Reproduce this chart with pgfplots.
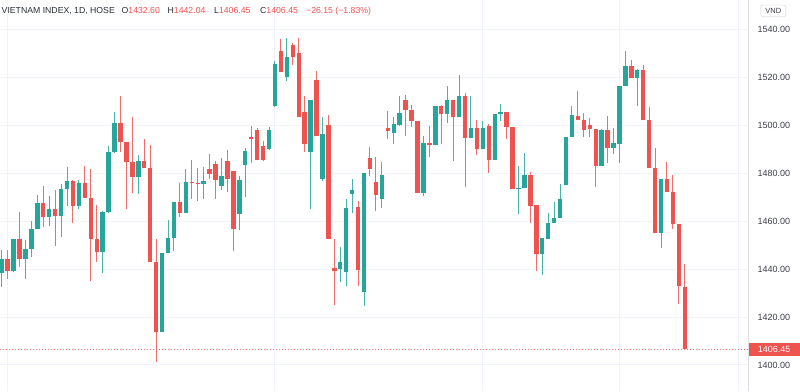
\documentclass[border=0pt]{standalone}
\usepackage{fontspec}
\setmainfont{Liberation Sans}
\usepackage{pgfplots}
\usepackage{pgfplotstable}
\pgfplotsset{compat=1.18}
\definecolor{upc}{HTML}{26A69A}
\definecolor{downc}{HTML}{EF5350}
\definecolor{gridc}{HTML}{F0F3FA}
\definecolor{txt}{HTML}{2A2E39}
\definecolor{axtxt}{HTML}{3C3F47}

\pgfplotstableread{
i o h l c
1 1438.2 1447.9 1432.6 1444.4
3 1439.2 1452.8 1438.9 1452.5
5 1444.2 1452.2 1436.1 1448.3
6 1448.3 1460.1 1444.9 1456.7
7 1456.7 1470.8 1456.7 1467.6
9 1461.8 1470.6 1458.1 1465.3
11 1462.2 1475.4 1453.5 1473.3
12 1473.3 1482.5 1466.4 1476.8
14 1466.4 1477.1 1465.0 1476.1
18 1447.2 1464.3 1438.6 1463.9
19 1463.9 1491.4 1463.6 1489.0
20 1489.0 1505.6 1488.6 1501.1
24 1478.5 1487.6 1471.5 1485.1
28 1413.6 1446.7 1413.6 1446.7
29 1446.7 1460.6 1446.7 1452.9
30 1452.9 1468.2 1447.4 1468.2
32 1463.6 1481.9 1463.6 1476.5
35 1475.7 1482.6 1469.2 1476.8
38 1474.7 1486.5 1472.9 1478.9
41 1463.2 1478.9 1456.4 1477.1
42 1483.5 1490.6 1470.1 1489.2
46 1490.3 1499.3 1490.0 1498.3
47 1508.1 1526.8 1507.6 1525.8
49 1520.3 1536.5 1518.5 1528.6
53 1488.9 1510.8 1465.0 1510.6
55 1477.5 1503.5 1476.8 1496.3
58 1440.0 1449.3 1434.7 1443.2
59 1438.9 1469.2 1433.1 1465.7
60 1471.5 1477.5 1463.6 1473.1
62 1430.3 1480.0 1424.7 1480.0
65 1469.2 1484.7 1465.7 1479.3
67 1496.7 1503.5 1492.1 1500.8
68 1500.4 1512.2 1499.7 1505.3
72 1471.9 1495.8 1470.6 1492.8
74 1491.9 1508.3 1491.9 1508.1
76 1505.0 1516.7 1501.1 1510.8
78 1503.5 1521.0 1503.5 1512.5
80 1494.9 1512.2 1494.9 1499.0
82 1490.4 1502.1 1490.4 1499.0
84 1485.6 1505.0 1485.6 1505.0
85 1505.0 1509.2 1502.1 1505.6
88 1473.5 1483.1 1463.2 1474.0
89 1474.0 1488.6 1474.0 1479.2
92 1446.3 1453.2 1437.6 1453.2
93 1452.8 1463.6 1452.8 1459.4
94 1459.2 1468.1 1459.2 1461.5
95 1461.3 1475.4 1461.3 1469.2
96 1475.0 1495.3 1475.0 1495.3
97 1495.1 1508.1 1495.1 1504.2
102 1483.1 1498.6 1483.1 1498.1
104 1490.6 1498.8 1488.3 1492.5
105 1492.4 1516.7 1484.4 1516.7
106 1516.7 1531.3 1516.7 1525.0
108 1519.9 1523.8 1508.1 1523.1
112 1455.3 1477.5 1449.0 1477.5
}\upcandles

\pgfplotstableread{
i o h l c
2 1444.4 1447.9 1435.8 1439.2
4 1452.5 1463.9 1441.1 1444.2
8 1467.6 1474.7 1457.8 1461.8
10 1465.3 1473.1 1449.7 1462.2
13 1476.8 1477.1 1459.4 1466.4
15 1476.1 1483.1 1469.9 1469.9
16 1469.9 1481.7 1434.9 1452.5
17 1452.5 1466.7 1443.2 1447.2
21 1501.1 1512.2 1489.0 1493.1
22 1493.1 1493.1 1465.0 1484.9
23 1484.9 1503.5 1471.9 1478.5
25 1485.1 1494.2 1482.4 1482.4
26 1482.4 1491.7 1443.2 1443.2
27 1443.2 1452.5 1401.1 1413.6
31 1468.2 1476.1 1461.8 1463.6
33 1476.5 1485.4 1469.2 1476.0
34 1476.1 1482.4 1468.5 1475.7
36 1481.9 1488.2 1477.5 1479.9
37 1484.0 1485.1 1469.2 1477.2
39 1485.0 1489.6 1472.2 1477.8
40 1481.0 1481.0 1447.6 1456.9
43 1495.3 1500.0 1484.4 1494.4
44 1498.1 1499.0 1485.6 1485.8
45 1491.3 1493.5 1485.1 1485.8
48 1531.0 1536.1 1522.4 1522.4
50 1533.8 1534.7 1525.4 1528.5
51 1530.3 1536.5 1503.6 1503.6
52 1505.8 1512.2 1488.9 1492.4
54 1519.2 1522.9 1495.8 1495.8
56 1500.4 1504.2 1452.8 1452.8
57 1440.7 1452.5 1425.0 1439.3
61 1466.0 1468.5 1432.8 1439.7
63 1486.5 1491.0 1478.9 1481.9
64 1476.5 1486.8 1464.3 1470.8
66 1498.8 1506.0 1494.2 1497.9
69 1510.8 1512.9 1495.8 1506.7
70 1506.7 1508.8 1499.4 1501.8
71 1502.1 1502.1 1471.9 1471.9
73 1492.8 1499.7 1486.8 1491.9
75 1508.1 1508.8 1492.5 1505.0
77 1510.8 1510.8 1485.1 1503.5
79 1512.5 1513.6 1474.4 1494.9
81 1499.0 1502.5 1487.9 1490.4
83 1499.7 1500.7 1480.0 1485.6
86 1505.6 1505.6 1494.2 1499.3
87 1499.3 1499.3 1473.6 1473.6
90 1479.2 1480.6 1459.4 1466.4
91 1466.7 1466.7 1439.3 1446.3
98 1504.2 1514.3 1502.2 1502.2
99 1502.5 1505.3 1495.3 1498.1
100 1500.4 1503.2 1495.3 1498.6
101 1498.6 1498.6 1474.4 1483.1
103 1498.1 1504.2 1484.2 1490.7
107 1525.0 1527.5 1519.9 1519.9
109 1523.1 1525.4 1502.5 1502.5
110 1502.5 1507.8 1482.4 1482.4
111 1482.4 1490.7 1455.3 1455.3
113 1477.5 1484.7 1472.4 1472.4
114 1472.4 1479.2 1456.9 1458.8
115 1458.8 1458.8 1425.4 1432.8
116 1432.60 1442.04 1406.45 1406.45
}\downcandles

\begin{document}
\begin{tikzpicture}[x=1pt,y=1pt]
\useasboundingbox (0,0) rectangle (800,391);
\fill[white] (0,0) rectangle (800,391);
\begin{axis}[
  at={(0,0)}, anchor=south west,
  scale only axis, width=748pt, height=391pt,
  xmin=0.714, xmax=126.64, ymin=1389.1, ymax=1552.45,
  axis line style={draw=none},
  xtick={2,47,82,105,125}, xticklabels={},
  ytick={1400,1420,...,1540},
  xmajorgrids, ymajorgrids,
  major grid style={draw=gridc, line width=1pt},
  major tick length=0pt,
  yticklabel pos=right,
  /pgf/number format/fixed,
  /pgf/number format/fixed zerofill,
  /pgf/number format/precision=2,
  /pgf/number format/1000 sep={},
  /pgf/number format/assume math mode=true,
  yticklabel style={anchor=west, xshift=6pt, font=\fontsize{9}{10}\selectfont, text=axtxt},
  extra y ticks={1406.45},
  extra y tick style={grid=none,
    yticklabel style={fill=downc, text=white, xshift=-6pt, minimum width=52pt, minimum height=13pt, inner sep=0pt, align=center}},
  clip=false,
]
% last price line
\addplot[color=downc!80!white, line width=1pt, dash pattern=on 1.2pt off 1.8pt, mark=none, forget plot]
  coordinates {(0.714,1406.45) (126.64,1406.45)};
% wicks
\addplot[draw=none, mark=none, forget plot,
  error bars/.cd, y dir=both, y explicit, error mark=none,
  error bar style={draw=upc!85!white, line width=1pt, solid}]
  table[x=i, y expr={(\thisrow{h}+\thisrow{l})/2}, y error expr={(\thisrow{h}-\thisrow{l})/2}] {\upcandles};
\addplot[draw=none, mark=none, forget plot,
  error bars/.cd, y dir=both, y explicit, error mark=none,
  error bar style={draw=downc!85!white, line width=1pt, solid}]
  table[x=i, y expr={(\thisrow{h}+\thisrow{l})/2}, y error expr={(\thisrow{h}-\thisrow{l})/2}] {\downcandles};
% bodies
\addplot[draw=none, mark=none, forget plot,
  error bars/.cd, y dir=both, y explicit, error mark=none,
  error bar style={draw=upc, line width=4.4pt, solid}]
  table[x=i, y expr={(\thisrow{o}+\thisrow{c})/2}, y error expr={max(abs(\thisrow{c}-\thisrow{o})/2,0.25)}] {\upcandles};
\addplot[draw=none, mark=none, forget plot,
  error bars/.cd, y dir=both, y explicit, error mark=none,
  error bar style={draw=downc, line width=4.4pt, solid}]
  table[x=i, y expr={(\thisrow{o}+\thisrow{c})/2}, y error expr={max(abs(\thisrow{c}-\thisrow{o})/2,0.25)}] {\downcandles};
\end{axis}
\draw[color=black!12, line width=1pt] (748.5,0) -- (748.5,391);
\begin{scope}[every node/.style={anchor=west, inner sep=0pt, font=\fontsize{8.7}{10}\selectfont, text=txt}]
\node at (1.5,380) {VIETNAM INDEX, 1D, HOSE};
\node at (121.5,380) {O\textcolor{downc}{1432.60}};
\node at (167.5,380) {H\textcolor{downc}{1442.04}};
\node at (214,380) {L\textcolor{downc}{1406.45}};
\node at (260,380) {C\textcolor{downc}{1406.45}};
\node[text=downc] at (306,380) {−26.15 (−1.83\%)};
\end{scope}
\node[draw=black!20, rounded corners=2pt, inner sep=1pt, font=\fontsize{7.5}{9}\selectfont, text=axtxt, minimum width=25pt, minimum height=11.5pt] at (773.3,380.2) {VND};
\end{tikzpicture}
\end{document}
